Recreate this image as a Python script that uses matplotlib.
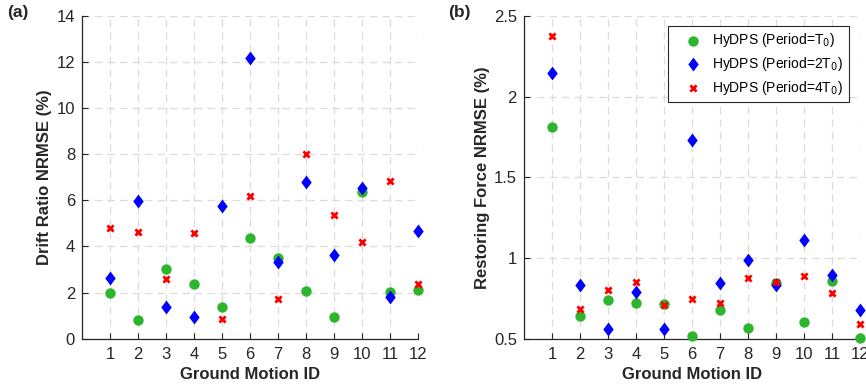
import matplotlib.pyplot as plt
import numpy as np

plt.rcParams["font.family"] = ["Liberation Sans", "DejaVu Sans"]

gm_id = np.arange(1, 13)

# (a) drift ratio NRMSE (%)
drift_t0 = [2.00, 0.80, 3.00, 2.38, 1.38, 4.38, 3.48, 2.06, 0.94, 6.35, 2.04, 2.10]
drift_2t0 = [2.65, 5.97, 1.35, 0.94, 5.75, 12.16, 3.33, 6.80, 3.64, 6.52, 1.81, 4.67]
drift_4t0 = [4.78, 4.61, 2.59, 4.57, 0.84, 6.17, 1.70, 8.00, 5.38, 4.20, 6.82, 2.39]

# (b) restoring force NRMSE (%)
force_t0 = [1.81, 0.638, 0.737, 0.720, 0.712, 0.516, 0.675, 0.568, 0.844, 0.603, 0.860, 0.504]
force_2t0 = [2.148, 0.835, 0.562, 0.788, 0.562, 1.734, 0.844, 0.988, 0.830, 1.113, 0.893, 0.675]
force_4t0 = [2.378, 0.681, 0.800, 0.848, 0.708, 0.743, 0.722, 0.877, 0.850, 0.887, 0.780, 0.588]

labels = ["HyDPS (Period=T$_0$)", "HyDPS (Period=2T$_0$)", "HyDPS (Period=4T$_0$)"]
GREEN, BLUE, RED = "#2db62d", "#0000ff", "#ff0000"
TXT = "#262626"
DIAMOND = [(0, 1), (0.75, 0), (0, -1), (-0.75, 0), (0, 1)]


def style(ax, ylim, yticks, ylabel):
    ax.set_xlim(0, 12)
    ax.set_ylim(*ylim)
    ax.set_xticks(gm_id)
    ax.set_yticks(yticks)
    ax.set_yticklabels([f"{t:g}" for t in yticks])
    ax.grid(True, ls=(0, (6, 4)), color="#dcdcdc", lw=0.9)
    ax.set_axisbelow(True)
    for s in ("top", "right"):
        ax.spines[s].set_visible(False)
    for s in ("left", "bottom"):
        ax.spines[s].set_color(TXT)
        ax.spines[s].set_linewidth(0.9)
    ax.tick_params(direction="in", length=4, width=0.8, colors=TXT,
                   labelsize=12, pad=6)
    ax.tick_params(axis="y", pad=5)
    ax.set_xlabel("Ground Motion ID", fontsize=12, weight="bold", color=TXT, labelpad=4)
    ax.set_ylabel(ylabel, fontsize=12, weight="bold", color=TXT, labelpad=3)


def scatter3(ax, a, b, c):
    ax.scatter(gm_id, a, s=56, marker="o", color=GREEN, lw=0, label=labels[0], clip_on=False, zorder=3)
    ax.scatter(gm_id, b, s=100, marker=DIAMOND, color=BLUE, lw=0, label=labels[1], clip_on=False, zorder=3)
    ax.scatter(gm_id, c, s=20, marker="x", color=RED, lw=2.0, label=labels[2], clip_on=False, zorder=3)


fig = plt.figure(figsize=(8.66, 3.85), dpi=100)
ax1 = fig.add_axes([0.0947, 0.1205, 0.388, 0.838])
ax2 = fig.add_axes([0.605, 0.1205, 0.388, 0.838])

scatter3(ax1, drift_t0, drift_2t0, drift_4t0)
style(ax1, (0, 14), np.arange(0, 15, 2), "Drift Ratio NRMSE (%)")

scatter3(ax2, force_t0, force_2t0, force_4t0)
style(ax2, (0.5, 2.5), [0.5, 1, 1.5, 2, 2.5], "Restoring Force NRMSE (%)")
leg = ax2.legend(loc="upper right", bbox_to_anchor=(0.967, 0.97), borderaxespad=0,
                 fontsize=10, frameon=True, fancybox=False, edgecolor="#262626",
                 framealpha=1, handletextpad=0.05, borderpad=0.4, labelspacing=0.42,
                 handlelength=2.75)
leg.get_frame().set_linewidth(0.8)

fig.text(0.008, 0.955, "(a)", fontsize=12.5, weight="bold", color=TXT)
fig.text(0.517, 0.955, "(b)", fontsize=12.5, weight="bold", color=TXT)

fig.savefig("out.png", dpi=100)
